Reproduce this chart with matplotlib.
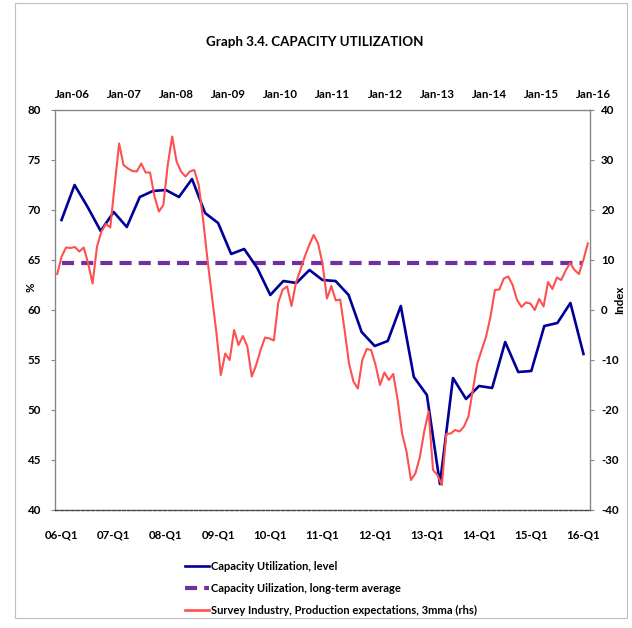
import matplotlib
matplotlib.use('Agg')
import matplotlib.pyplot as plt
from matplotlib.lines import Line2D
from matplotlib.patches import Rectangle

# ---------------- data ----------------
bottom_labels = ['06-Q1', '07-Q1', '08-Q1', '09-Q1', '10-Q1', '11-Q1',
                 '12-Q1', '13-Q1', '14-Q1', '15-Q1', '16-Q1']
top_labels = ['Jan-06', 'Jan-07', 'Jan-08', 'Jan-09', 'Jan-10', 'Jan-11',
              'Jan-12', 'Jan-13', 'Jan-14', 'Jan-15', 'Jan-16']

# quarterly capacity utilization, 2006Q1 .. 2016Q1 (%)
cap_util = [69.0, 72.5, 70.3, 67.9, 69.8, 68.3, 71.3, 71.9, 72.0, 71.3,
            73.1, 69.7, 68.7, 65.6, 66.1, 64.2, 61.5, 62.9, 62.7, 64.0,
            63.0, 62.9, 61.5, 57.8, 56.4, 56.9, 60.4, 53.3, 51.5, 42.6,
            53.2, 51.1, 52.4, 52.2, 56.8, 53.8, 53.9, 58.4, 58.7, 60.7,
            55.6]
cap_avg_value = 64.75
cap_avg = [cap_avg_value] * len(cap_util)

# monthly survey: production expectations, 3mma (rhs), Jan-06 .. Jan-16
survey = [7.2, 10.7, 12.5, 12.4, 12.6, 11.7, 12.5, 9.3, 5.3, 12.7,
          15.7, 17.2, 16.5, 25.0, 33.3, 29.0, 28.3, 27.8, 27.7, 29.3,
          27.5, 27.5, 22.7, 19.7, 21.0, 29.0, 34.7, 29.7, 27.7, 26.7,
          27.7, 28.0, 25.0, 18.0, 10.0, 2.7, -4.5, -13.0, -8.7, -10.0,
          -4.0, -7.0, -5.2, -7.3, -13.3, -11.0, -8.0, -5.5, -5.7, -6.1,
          1.5, 4.1, 4.7, 0.8, 5.5, 8.0, 10.7, 13.0, 15.0, 13.3,
          9.3, 2.3, 4.8, 1.9, 2.1, -4.0, -10.7, -14.3, -15.7, -10.0,
          -7.8, -8.0, -11.0, -15.0, -12.5, -14.0, -12.8, -18.0, -24.7, -28.3,
          -34.0, -32.7, -29.5, -24.3, -20.3, -32.0, -33.0, -35.0, -24.8, -24.7,
          -24.0, -24.3, -23.3, -21.3, -16.0, -10.7, -8.0, -5.3, -1.3, 4.0,
          4.1, 6.3, 6.7, 5.0, 2.0, 0.6, 1.5, 1.3, 0.0, 2.2,
          0.7, 5.6, 4.2, 6.5, 6.0, 7.9, 9.4, 8.0, 7.2, 10.0,
          13.3]

left_ticks = [40, 45, 50, 55, 60, 65, 70, 75, 80]
right_ticks = [-40, -30, -20, -10, 0, 10, 20, 30, 40]

legend_labels = ['Capacity Utilization, level',
                 'Capacity Uilization, long-term average',
                 'Survey Industry, Production expectations, 3mma (rhs)']

# ---------------- style ----------------
plt.rcParams['font.family'] = ['Lato', 'DejaVu Sans']
plt.rcParams['font.weight'] = 'bold'

BLUE = '#000099'
PURPLE = '#7030A0'
RED = '#FF5050'
AXC = '#868686'
FS = 8.3
FS_LEG = 8.0

W, H = 632, 628
fig = plt.figure(figsize=(W / 100, H / 100), dpi=100)
fig.patches.append(Rectangle((15 / W, 1 - 618 / H), (627 - 15) / W, (618 - 3) / H,
                             transform=fig.transFigure, fill=False,
                             edgecolor='#BFBFBF', lw=0.8))

L, R, T, B = 55, 590, 110, 510
pos = [L / W, 1 - B / H, (R - L) / W, (B - T) / H]

ax = fig.add_axes(pos)
nq = len(cap_util)
xq = list(range(nq))
ax.set_xlim(-0.5, nq - 0.5)
ax.set_ylim(left_ticks[0], left_ticks[-1])
ax.plot(xq, cap_util, color=BLUE, lw=1.9, zorder=3)
ax.plot(xq, cap_avg, color=PURPLE, lw=3, dashes=(2.9, 1.7), zorder=2)

ax.set_yticks(left_ticks)
ax.set_yticklabels([str(v) for v in left_ticks], fontsize=FS, fontweight='bold')
ax.set_xticks(list(range(0, nq, 4)))
ax.set_xticklabels(bottom_labels, fontsize=FS, fontweight='bold')
ax.tick_params(axis='x', length=0, pad=14)
ax.tick_params(axis='y', length=3, color=AXC, pad=7)
for s in ['left', 'right', 'top']:
    ax.spines[s].set_color(AXC)
    ax.spines[s].set_linewidth(1.0)
ax.spines['bottom'].set_color('#404040')
ax.spines['bottom'].set_linewidth(1.0)
ax.spines['bottom'].set_linestyle((0, (2.5, 1.2)))

fig.text(31 / W, 1 - 287 / H, '%', rotation=90, ha='center', va='center',
         fontsize=FS, fontweight='bold')
fig.text(620 / W, 1 - 300 / H, 'Index', rotation=90, ha='center', va='center',
         fontsize=FS, fontweight='bold')

for i, lab in enumerate(top_labels):
    ax.text(0.8 + 4 * i, 1.04, lab, transform=ax.get_xaxis_transform(),
            ha='center', va='center', fontsize=FS, fontweight='bold', clip_on=False)

ax2 = ax.twinx()
ax2.set_ylim(right_ticks[0], right_ticks[-1])
ax2.set_yticks(right_ticks)
ax2.set_yticklabels([str(v) for v in right_ticks], fontsize=FS, fontweight='bold')
ax2.tick_params(axis='y', length=3, color=AXC, pad=5)
for s in ax2.spines.values():
    s.set_visible(False)

ax3 = fig.add_axes(pos, frameon=False)
nm = len(survey)
ax3.set_xlim(-0.5, nm - 0.5)
ax3.set_ylim(right_ticks[0], right_ticks[-1])
ax3.plot(list(range(nm)), survey, color=RED, lw=1.5, zorder=4)
ax3.axis('off')

fig.text(315 / W, 1 - 42 / H, 'Graph 3.4. CAPACITY UTILIZATION', ha='center',
         va='center', fontsize=9.6, fontweight='bold')

handles = [Line2D([], [], color=BLUE, lw=1.9),
           Line2D([], [], color=PURPLE, lw=3, dashes=(2.9, 1.7)),
           Line2D([], [], color=RED, lw=1.9)]
leg = fig.legend(handles, legend_labels, loc='upper left',
                 bbox_to_anchor=(185 / W, 1 - 561 / H), frameon=False,
                 prop={'size': FS_LEG, 'weight': 'bold'}, handlelength=2.2,
                 handletextpad=0.15, labelspacing=1.0, borderpad=0,
                 borderaxespad=0)

fig.savefig('out.png', dpi=100)
